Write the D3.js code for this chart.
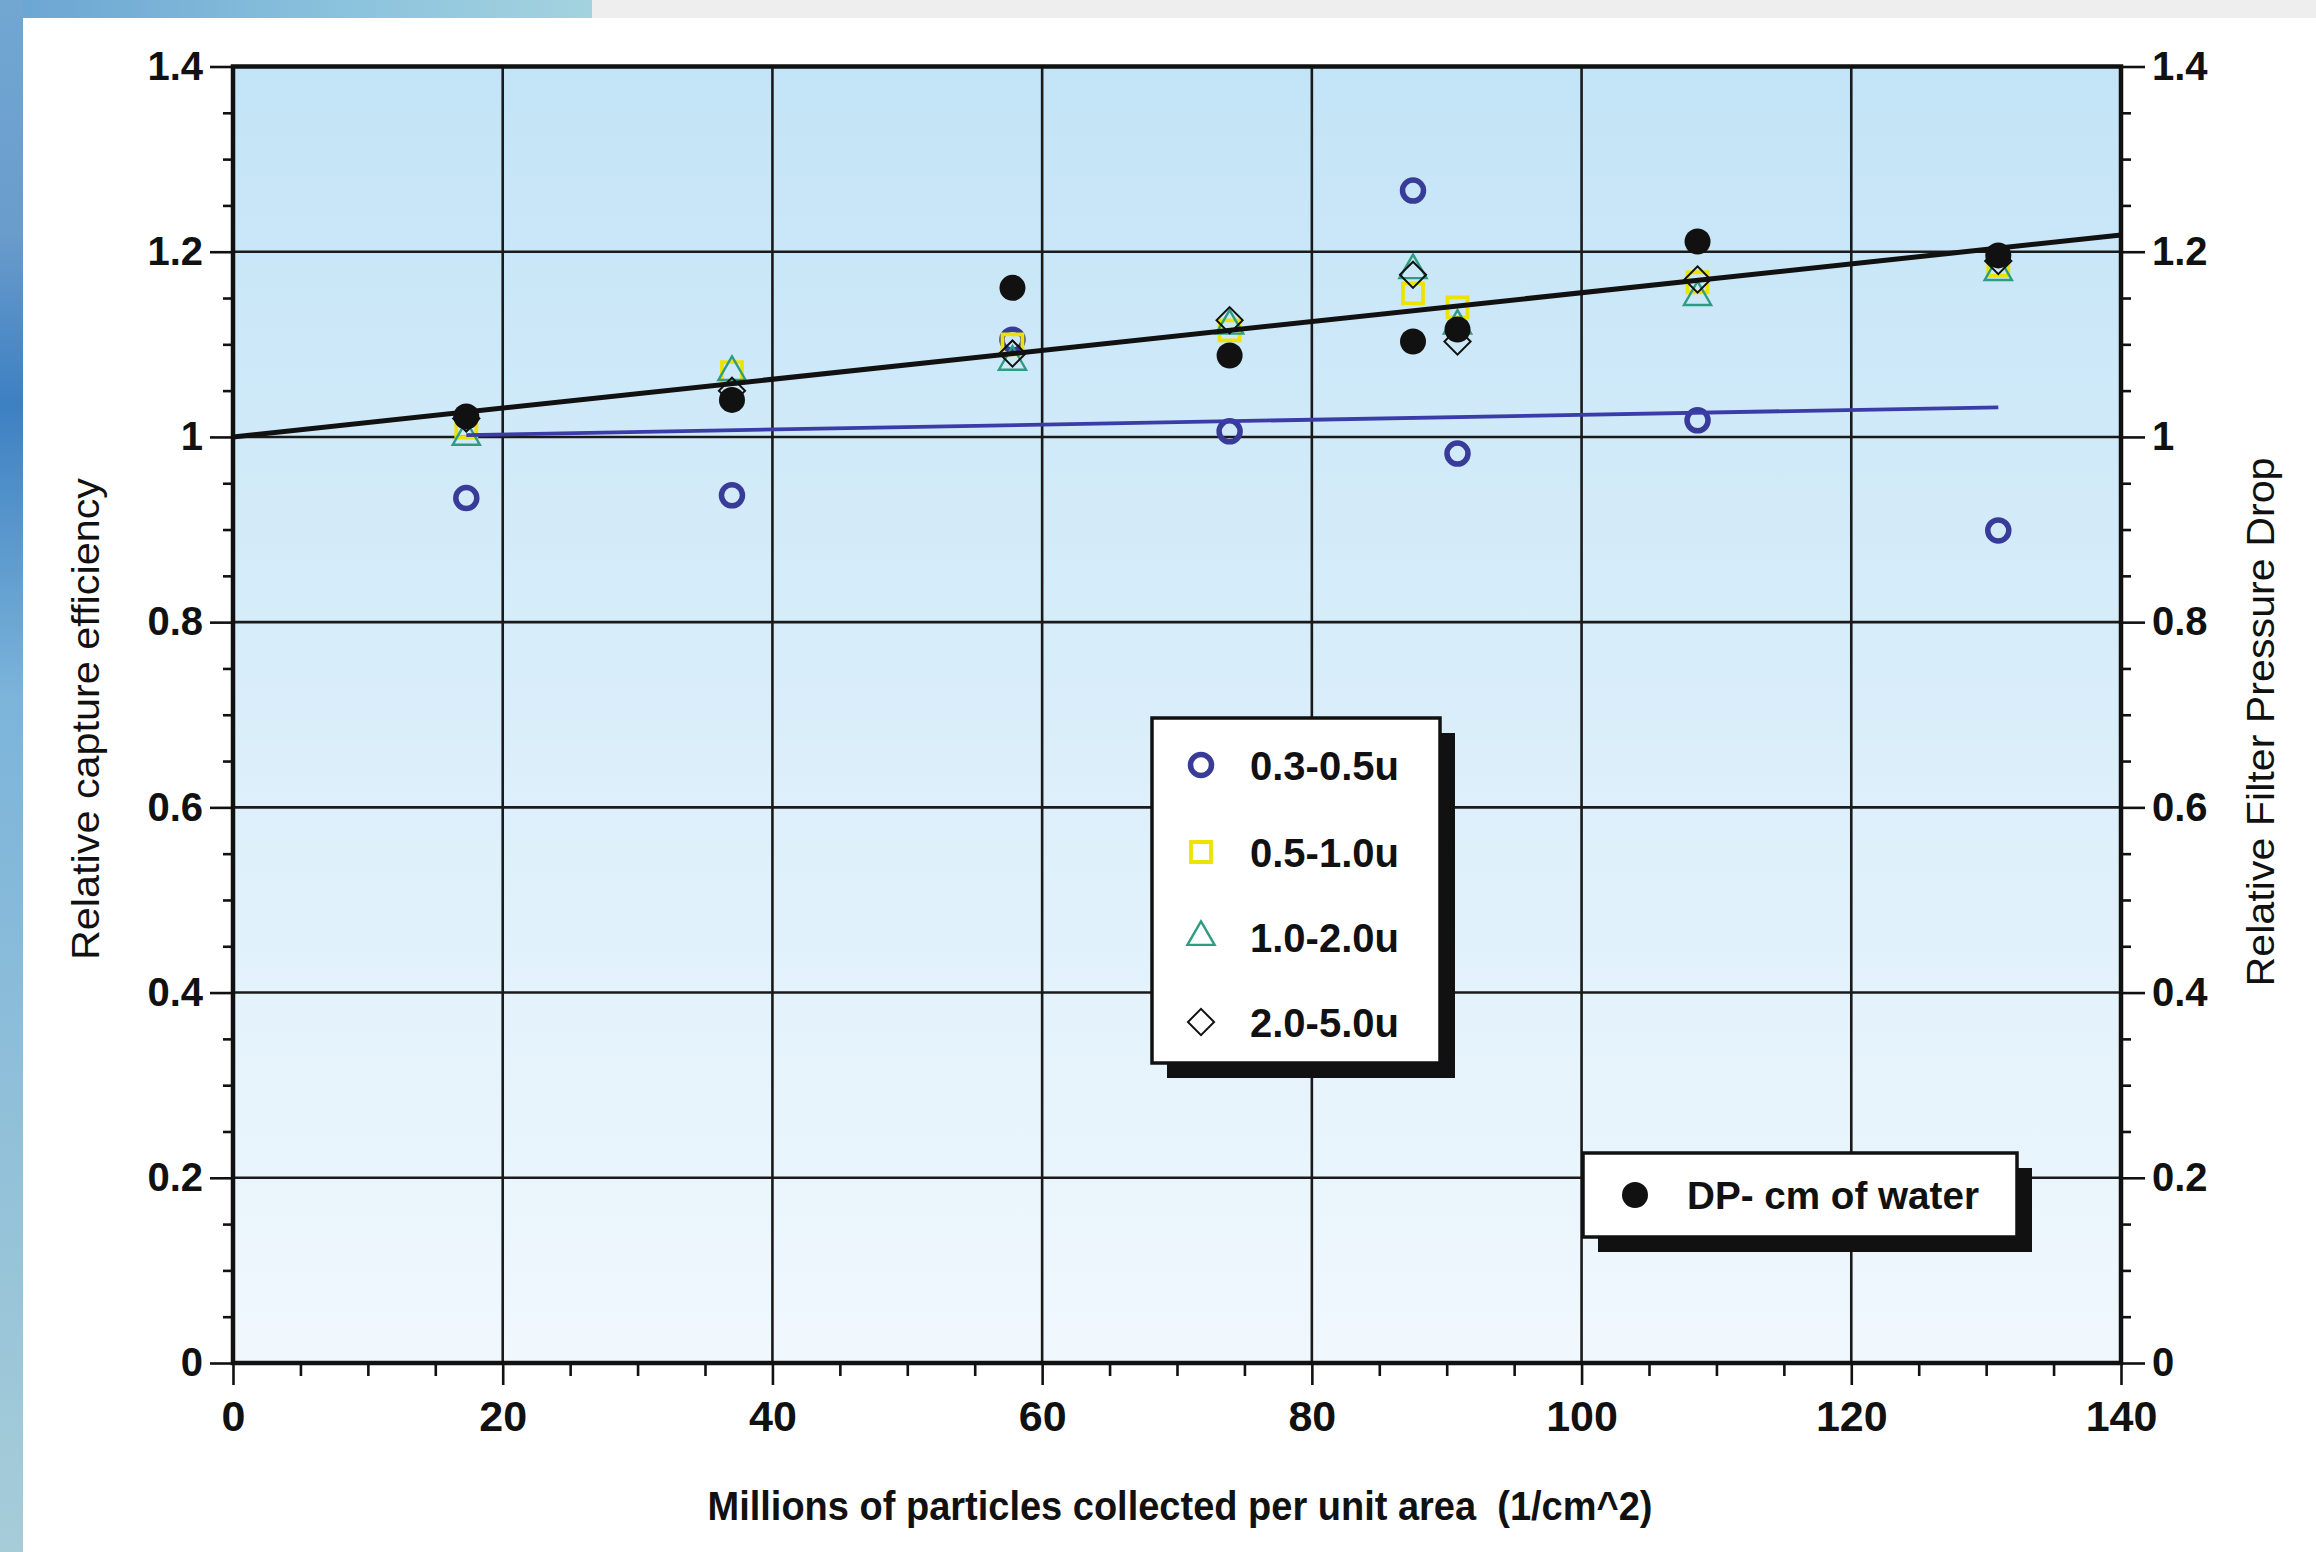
<!DOCTYPE html>
<html>
<head>
<meta charset="utf-8">
<script src="https://cdn.jsdelivr.net/npm/d3@7"></script>
<style>
  html, body { margin: 0; padding: 0; background: #ffffff; }
  svg { display: block; }
  text { font-family: "Liberation Sans", Arial, Helvetica, sans-serif; fill: #111; white-space: pre; }
</style>
</head>
<body>
<svg id="chart" width="2316" height="1552"></svg>
<script>
// ---------------- data ----------------
const xTickValues = [0, 20, 40, 60, 80, 100, 120, 140];
const yTickValues = [0, 0.2, 0.4, 0.6, 0.8, 1, 1.2, 1.4];
const yTickLabels = ["0", "0.2", "0.4", "0.6", "0.8", "1", "1.2", "1.4"];

// Millions of particles collected per unit area (1/cm^2)
const loading = [17.3, 37.0, 57.8, 73.9, 87.5, 90.8, 108.6, 130.9];
// Relative capture efficiency by particle size
const eff_03_05 = [0.934, 0.937, 1.105, 1.006, 1.266, 0.982, 1.018, 0.899];
const eff_05_10 = [1.010, 1.070, 1.100, 1.115, 1.155, 1.140, 1.167, 1.185];
const eff_10_20 = [1.000, 1.070, 1.081, 1.120, 1.180, 1.120, 1.151, 1.178];
const eff_20_50 = [1.020, 1.050, 1.090, 1.126, 1.175, 1.103, 1.170, 1.190];
// Relative filter pressure drop (DP - cm of water)
const dpRelative = [1.022, 1.040, 1.161, 1.088, 1.103, 1.116, 1.211, 1.196];

// trend lines (end points)
const trendSmallX = [17.3, 130.9];
const trendSmallY = [1.002, 1.032];
const trendDpX = [0, 140];
const trendDpY = [1.000, 1.218];

const sizeLegendLabels = ["0.3-0.5u", "0.5-1.0u", "1.0-2.0u", "2.0-5.0u"];
const dpLegendLabel = "DP- cm of water";
const xTitle = "Millions of particles collected per unit area  (1/cm^2)";
const yTitleLeft = "Relative capture efficiency";
const yTitleRight = "Relative Filter Pressure Drop";

// ---------------- layout ----------------
const W = 2316, H = 1552;
const plot = { left: 233, right: 2121, top: 66.5, bottom: 1363 };

const svg = d3.select("#chart");
const defs = svg.append("defs");

// page decorations
const gStrip = defs.append("linearGradient").attr("id", "strip").attr("x1", 0).attr("y1", 0).attr("x2", 0).attr("y2", 1);
gStrip.append("stop").attr("offset", "0%").attr("stop-color", "#72a7d2");
gStrip.append("stop").attr("offset", "15%").attr("stop-color", "#6a9ccc");
gStrip.append("stop").attr("offset", "26%").attr("stop-color", "#3d80c2");
gStrip.append("stop").attr("offset", "45%").attr("stop-color", "#7cb4da");
gStrip.append("stop").attr("offset", "100%").attr("stop-color", "#a6ccd8");
const gBand = defs.append("linearGradient").attr("id", "band").attr("x1", 0).attr("y1", 0).attr("x2", 1).attr("y2", 0);
gBand.append("stop").attr("offset", "0%").attr("stop-color", "#6aa4d2");
gBand.append("stop").attr("offset", "60%").attr("stop-color", "#8cc3dd");
gBand.append("stop").attr("offset", "100%").attr("stop-color", "#a4d3df");
const gPlot = defs.append("linearGradient").attr("id", "plotbg").attr("x1", 0).attr("y1", 0).attr("x2", 0).attr("y2", 1);
gPlot.append("stop").attr("offset", "0%").attr("stop-color", "#c3e4f7");
gPlot.append("stop").attr("offset", "100%").attr("stop-color", "#f0f8fd");

svg.append("rect").attr("x", 0).attr("y", 0).attr("width", W).attr("height", H).attr("fill", "#ffffff");
svg.append("rect").attr("x", 592).attr("y", 0).attr("width", W - 592).attr("height", 18).attr("fill", "#eeeeee");
svg.append("rect").attr("x", 0).attr("y", 0).attr("width", 592).attr("height", 18).attr("fill", "url(#band)");
svg.append("rect").attr("x", 0).attr("y", 0).attr("width", 23).attr("height", H).attr("fill", "url(#strip)");

// scales
const x = d3.scaleLinear().domain([0, 140]).range([plot.left, plot.right]);
const y = d3.scaleLinear().domain([0, 1.4]).range([plot.bottom, plot.top]);

// plot background
svg.append("rect")
  .attr("x", x(0)).attr("y", y(1.4))
  .attr("width", x(140) - x(0)).attr("height", y(0) - y(1.4))
  .attr("fill", "url(#plotbg)");

// grid
const grid = svg.append("g").attr("stroke", "#1a1a1a").attr("stroke-width", 2.6);
grid.selectAll("line.vx").data(xTickValues.slice(1, -1)).join("line")
  .attr("x1", d => x(d)).attr("x2", d => x(d)).attr("y1", y(0)).attr("y2", y(1.4));
grid.selectAll("line.hy").data(yTickValues.slice(1, -1)).join("line")
  .attr("x1", x(0)).attr("x2", x(140)).attr("y1", d => y(d)).attr("y2", d => y(d));

// axes
function styleAxis(g, fontSize) {
  g.select(".domain").remove();
  g.selectAll(".tick line").attr("stroke", "#111").attr("stroke-width", 2.6);
  g.selectAll(".tick text").attr("font-size", fontSize).attr("font-weight", "bold").attr("fill", "#111");
}
const minorY = d3.range(0, 1.4001, 0.05).filter(v => Math.abs(Math.round(v * 5) - v * 5) > 1e-6);
const minorX = d3.range(0, 140.001, 5).filter(v => v % 20 !== 0);

const yFmt = d => yTickLabels[yTickValues.findIndex(t => Math.abs(t - d) < 1e-9)];

svg.append("g").attr("transform", `translate(${x(0)},0)`)
  .call(d3.axisLeft(y).tickValues(yTickValues).tickFormat(yFmt).tickSize(23).tickPadding(7))
  .call(g => styleAxis(g, 40));
svg.append("g").attr("transform", `translate(${x(0)},0)`)
  .call(d3.axisLeft(y).tickValues(minorY).tickFormat("").tickSize(10))
  .call(g => styleAxis(g, 40));
svg.append("g").attr("transform", `translate(${x(140)},0)`)
  .call(d3.axisRight(y).tickValues(yTickValues).tickFormat(yFmt).tickSize(24).tickPadding(7))
  .call(g => styleAxis(g, 40));
svg.append("g").attr("transform", `translate(${x(140)},0)`)
  .call(d3.axisRight(y).tickValues(minorY).tickFormat("").tickSize(10))
  .call(g => styleAxis(g, 40));
svg.append("g").attr("transform", `translate(0,${y(0)})`)
  .call(d3.axisBottom(x).tickValues(xTickValues).tickFormat(d3.format("d")).tickSize(22).tickPadding(15))
  .call(g => styleAxis(g, 43));
svg.append("g").attr("transform", `translate(0,${y(0)})`)
  .call(d3.axisBottom(x).tickValues(minorX).tickFormat("").tickSize(13))
  .call(g => styleAxis(g, 43));

// frame
svg.append("rect")
  .attr("x", x(0)).attr("y", y(1.4))
  .attr("width", x(140) - x(0)).attr("height", y(0) - y(1.4))
  .attr("fill", "none").attr("stroke", "#111").attr("stroke-width", 4.5);

// ---------------- series ----------------
const cBlue = "#383b98", cYellow = "#ece400", cTeal = "#2e9c82", cBlack = "#111";

const symCircle = d3.symbol().type(d3.symbolCircle).size(Math.PI * 10.5 * 10.5);
const symSquare = d3.symbol().type(d3.symbolSquare).size(20 * 20);
const symTriangle = d3.symbol().type(d3.symbolTriangle).size(320);
const symDiamond = d3.symbol().type(d3.symbolSquare).size(18.5 * 18.5);
const symDot = d3.symbol().type(d3.symbolCircle).size(Math.PI * 13 * 13);

function drawSeries(values, sym, stroke, sw, fill, rot) {
  svg.append("g").selectAll("path").data(values).join("path")
    .attr("d", sym)
    .attr("transform", (d, i) => `translate(${x(loading[i])},${y(d)})` + (rot ? ` rotate(${rot})` : ""))
    .attr("fill", fill).attr("stroke", stroke).attr("stroke-width", sw);
}

drawSeries(eff_03_05, symCircle, cBlue, 5.5, "none");
drawSeries(eff_05_10, symSquare, cYellow, 3.8, "none");
drawSeries(eff_10_20, symTriangle, cTeal, 2.4, "none");
drawSeries(eff_20_50, symDiamond, cBlack, 2, "none", 45);

// trend lines
const line = d3.line().x(d => x(d[0])).y(d => y(d[1]));
svg.append("path").datum(trendSmallX.map((v, i) => [v, trendSmallY[i]]))
  .attr("d", line).attr("fill", "none").attr("stroke", "#3b3ca8").attr("stroke-width", 3.8);
svg.append("path").datum(trendDpX.map((v, i) => [v, trendDpY[i]]))
  .attr("d", line).attr("fill", "none").attr("stroke", cBlack).attr("stroke-width", 5);

drawSeries(dpRelative, symDot, cBlack, 0, cBlack);

// ---------------- legends ----------------
function legendBox(x0, y0, w, h) {
  svg.append("rect").attr("x", x0 + 15).attr("y", y0 + 15).attr("width", w).attr("height", h).attr("fill", "#111");
  svg.append("rect").attr("x", x0).attr("y", y0).attr("width", w).attr("height", h)
    .attr("fill", "#ffffff").attr("stroke", "#111").attr("stroke-width", 3.5);
}
legendBox(1152, 718, 288, 345);
const legRows = [765, 852, 937, 1022];
const legSyms = [
  { sym: symCircle, stroke: cBlue, sw: 5.5, rot: 0 },
  { sym: symSquare, stroke: cYellow, sw: 3.8, rot: 0 },
  { sym: symTriangle, stroke: cTeal, sw: 2.4, rot: 0 },
  { sym: symDiamond, stroke: cBlack, sw: 2, rot: 45 }
];
const lg = svg.append("g");
lg.selectAll("path").data(legSyms).join("path")
  .attr("d", d => d.sym())
  .attr("transform", (d, i) => `translate(1201,${legRows[i]}) rotate(${d.rot})`)
  .attr("fill", "none").attr("stroke", d => d.stroke).attr("stroke-width", d => d.sw);
lg.selectAll("text").data(sizeLegendLabels).join("text")
  .attr("x", 1250).attr("y", (d, i) => legRows[i] + 15)
  .attr("font-size", 40).attr("font-weight", "bold")
  .text(d => d);

legendBox(1583, 1153, 434, 84);
svg.append("path").attr("d", symDot()).attr("transform", "translate(1635,1195)").attr("fill", cBlack);
svg.append("text").attr("x", 1687).attr("y", 1209)
  .attr("font-size", 39).attr("font-weight", "bold")
  .attr("textLength", 292).attr("lengthAdjust", "spacingAndGlyphs")
  .text(dpLegendLabel);

// ---------------- titles ----------------
svg.append("text").attr("x", 1180).attr("y", 1520)
  .attr("text-anchor", "middle").attr("font-size", 41).attr("font-weight", "bold")
  .attr("textLength", 945).attr("lengthAdjust", "spacingAndGlyphs")
  .text(xTitle);
svg.append("text").attr("transform", "translate(99,719) rotate(-90)")
  .attr("text-anchor", "middle").attr("font-size", 38)
  .attr("textLength", 482).attr("lengthAdjust", "spacingAndGlyphs")
  .text(yTitleLeft);
svg.append("text").attr("transform", "translate(2274,722) rotate(-90)")
  .attr("text-anchor", "middle").attr("font-size", 38)
  .attr("textLength", 529).attr("lengthAdjust", "spacingAndGlyphs")
  .text(yTitleRight);
</script>
</body>
</html>
